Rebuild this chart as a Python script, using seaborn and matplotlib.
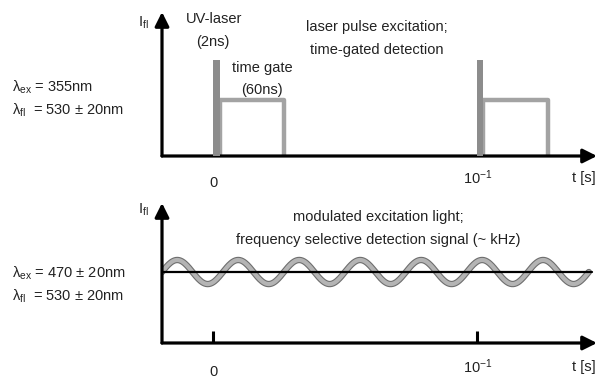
import numpy as np
import pandas as pd
import matplotlib
matplotlib.use("Agg")
import matplotlib.pyplot as plt
import matplotlib.patheffects as pe
import seaborn as sns

# ---------------- data ----------------
pulse_starts = [0.0, 0.1]          # s, laser pulse positions
pulse_width = 0.0025               # schematic width
pulse_height = 0.67
gate_length = 0.0245               # schematic gate length
gate_height = 0.39
tick_values = [0.0, 0.1]
tick_labels = ["0", r"$\mathregular{10^{-1}}$"]
mod_periods = 7
mod_period = 0.0231
mod_offset = 0.507
mod_amplitude = 0.086
t_min, t_max = -0.0193, 0.1455
baseline_end = 0.1436

top_params = [r"$\mathregular{\lambda_{ex}}$ = 355nm", r"$\mathregular{\lambda_{fl}}$  = 530 ± 20nm"]
bot_params = [r"$\mathregular{\lambda_{ex}}$ = 470 ± 20nm", r"$\mathregular{\lambda_{fl}}$  = 530 ± 20nm"]
top_title = ["laser pulse excitation;", "time-gated detection"]
bot_title = ["modulated excitation light;", "frequency selective detection signal (~ kHz)"]

# ---------------- style ----------------
sns.set_theme(style="white")
plt.rcParams["font.family"] = ["Liberation Sans", "DejaVu Sans"]
plt.rcParams["mathtext.fontset"] = "custom"
plt.rcParams["mathtext.rm"] = "Liberation Sans"
plt.rcParams["mathtext.it"] = "Liberation Sans:italic"
plt.rcParams["mathtext.bf"] = "Liberation Sans:bold"

W, H = 600, 378
fig = plt.figure(figsize=(6, 3.78), dpi=100)

def fx(px):
    return px / W

def fy(py):
    return 1 - py / H

ax1 = fig.add_axes([fx(162), fy(156), fx(597 - 162), (156 - 12) / H])
ax2 = fig.add_axes([fx(162), fy(343), fx(597 - 162), (343 - 203) / H])

fs = 10.5
txtcol = "#222222"
grey_fill = "#8c8c8c"
grey_line = "#a3a3a3"

# label offsets (pixels below axis): zero label, power label, unit label
label_offsets = {ax1: (-27, -22, -22), ax2: (-29, -24, -24)}
ifl_offsets = {ax1: -11, ax2: -7}

for ax in (ax1, ax2):
    ax.set_xlim(t_min, t_max)
    ax.set_ylim(0, 1)
    for s in ax.spines.values():
        s.set_visible(False)
    ax.set_yticks([])
    ax.patch.set_alpha(0)
    # axes arrows
    ax.annotate("", xy=(1, 0), xytext=(0, 0), xycoords="axes fraction",
                arrowprops=dict(arrowstyle="-|>,head_length=0.6,head_width=0.3", lw=2.3,
                                color="black", shrinkA=0, shrinkB=0, mutation_scale=14))
    ax.annotate("", xy=(0, 1), xytext=(0, 0), xycoords="axes fraction",
                arrowprops=dict(arrowstyle="-|>,head_length=0.6,head_width=0.3", lw=2.3,
                                color="black", shrinkA=0, shrinkB=0, mutation_scale=14))
    ax.annotate(r"$\mathregular{I_{fl}}$", xy=(0, 1), xycoords="axes fraction",
                xytext=(-19, ifl_offsets[ax]), textcoords="offset pixels",
                ha="center", va="center", fontsize=fs, color=txtcol)
    offs = label_offsets[ax]
    ax.annotate("t [s]", xy=(1, 0), xycoords="axes fraction",
                xytext=(-13, offs[2]), textcoords="offset pixels",
                ha="center", va="center", fontsize=fs, color=txtcol)
    ax.set_xticks(tick_values)
    ax.set_xticklabels([])
    for val, lab, off in zip(tick_values, tick_labels, offs[:2]):
        ax.annotate(lab, xy=(val, 0), xycoords=("data", "axes fraction"),
                    xytext=(1, off), textcoords="offset pixels",
                    ha="center", va="center", fontsize=fs, color=txtcol)

ax1.tick_params(axis="x", bottom=False, length=0)
ax2.tick_params(axis="x", bottom=True, direction="in", length=9, width=2.2, color="black")

# ---------- top: pulses and gates ----------
for p in pulse_starts:
    ax1.fill_between([p, p + pulse_width], 0, pulse_height, color=grey_fill, lw=0, zorder=3)
    gx = [p + pulse_width, p + pulse_width, p + pulse_width + gate_length, p + pulse_width + gate_length]
    gy = [0, gate_height, gate_height, 0]
    gate_df = pd.DataFrame({"t": gx, "I": gy})
    sns.lineplot(data=gate_df, x="t", y="I", ax=ax1, sort=False, color=grey_line,
                 lw=3.2, zorder=2, estimator=None)
ax1.set_xlabel("")
ax1.set_ylabel("")

# ---------- bottom: modulated signal ----------
t_sine = np.linspace(t_min, t_min + mod_periods * mod_period, 600)
sine_df = pd.DataFrame({"t": t_sine,
                        "I": mod_offset + mod_amplitude * np.sin(2 * np.pi * (t_sine - t_min) / mod_period)})
sns.lineplot(data=sine_df, x="t", y="I", ax=ax2, color="#b4b4b4", lw=3.0, estimator=None,
             path_effects=[pe.Stroke(linewidth=4.6, foreground="#6e6e6e"), pe.Normal()])
base_df = pd.DataFrame({"t": [t_min, baseline_end], "I": [mod_offset, mod_offset]})
sns.lineplot(data=base_df, x="t", y="I", ax=ax2, color="black", lw=1.6, zorder=4, estimator=None)
ax2.set_xlabel("")
ax2.set_ylabel("")

# ---------- text annotations ----------
def ftext(x, y, s, ha="center"):
    fig.text(fx(x), fy(y), s, ha=ha, va="center", fontsize=fs, color=txtcol)

ftext(214, 19, "UV-laser")
ftext(213, 42, "(2ns)")
ftext(262, 68, "time gate")
ftext(262, 90, "(60ns)")
ftext(377, 27, top_title[0])
ftext(377, 50, top_title[1])
ftext(378, 217, bot_title[0])
ftext(378, 240, bot_title[1])

ftext(12, 87, top_params[0], ha="left")
ftext(12, 110, top_params[1], ha="left")
ftext(12, 273, bot_params[0], ha="left")
ftext(12, 296, bot_params[1], ha="left")

fig.savefig("out.png", dpi=100)
